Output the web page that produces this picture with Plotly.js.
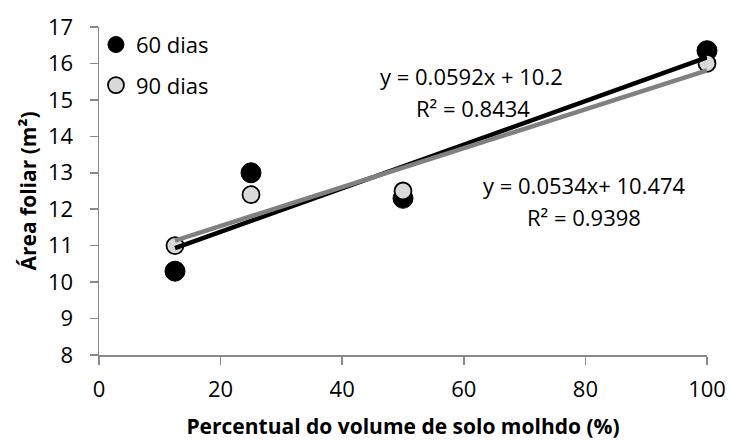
<!DOCTYPE html>
<html><head><meta charset="utf-8">
<script src="https://cdn.plot.ly/plotly-3.0.1.min.js"></script>
<style>html,body{margin:0;padding:0;background:#fff}#chart{width:730px;height:441px}</style>
</head><body><div id="chart"></div>
<script>
const xValues = [12.5, 25, 50, 100];
const y60 = [10.3, 13.0, 12.3, 16.35];
const y90 = [11.0, 12.4, 12.5, 16.0];
const seriesNames = ["60 dias", "90 dias"];
const eqLines = ["y = 0.0592x + 10.2", "R² = 0.8434", "y = 0.0534x+ 10.474", "R² = 0.9398"];
const xTicks = [0, 20, 40, 60, 80, 100];
const yTicks = [8, 9, 10, 11, 12, 13, 14, 15, 16, 17];

function fit(x, y) {
  const n = x.length;
  const mx = x.reduce((a, b) => a + b, 0) / n;
  const my = y.reduce((a, b) => a + b, 0) / n;
  let sxy = 0, sxx = 0;
  for (let i = 0; i < n; i++) { sxy += (x[i] - mx) * (y[i] - my); sxx += (x[i] - mx) ** 2; }
  const m = sxy / sxx; const b = my - m * mx;
  const xs = [Math.min(...x), Math.max(...x)];
  return { x: xs, y: xs.map(v => m * v + b) };
}
const f60 = fit(xValues, y60), f90 = fit(xValues, y90);
const font = "Open Sans";

const traces = [
  { x: xValues, y: y60, name: seriesNames[0], legendgroup: "a", mode: "markers", type: "scatter", cliponaxis: false,
    marker: { size: 20, color: "#000000", line: { color: "#000000", width: 1 } } },
  { x: xValues, y: y90, name: seriesNames[1], legendgroup: "b", mode: "markers", type: "scatter", cliponaxis: false,
    marker: { size: 17, color: "#d9d9d9", line: { color: "#000000", width: 1.8 } } },
  { x: f60.x, y: f60.y, mode: "lines", type: "scatter", showlegend: false, hoverinfo: "skip", cliponaxis: false,
    line: { color: "#000000", width: 4.5 } },
  { x: f90.x, y: f90.y, mode: "lines", type: "scatter", showlegend: false, hoverinfo: "skip", cliponaxis: false,
    line: { color: "#808080", width: 4.5 } }
];

const annPos = [[0.613, 0.852], [0.615, 0.752], [0.798, 0.517], [0.798, 0.420]];
const annotations = eqLines.map((t, i) => ({
  x: annPos[i][0], y: annPos[i][1], xref: "paper", yref: "paper", text: t, showarrow: false,
  xanchor: "center", yanchor: "middle", font: { family: font, size: 22 }
}));

const layout = {
  width: 730, height: 441,
  margin: { l: 99, r: 23, t: 26.5, b: 86 },
  paper_bgcolor: "#fff", plot_bgcolor: "#fff",
  font: { family: font, size: 22, color: "#000" },
  showlegend: true,
  legend: { x: -0.005, y: 1.01, xanchor: "left", yanchor: "top", bgcolor: "rgba(0,0,0,0)",
    font: { family: font, size: 22 }, itemwidth: 30, traceorder: "grouped", tracegroupgap: 9 },
  xaxis: { range: [0, 100], tickvals: xTicks, showgrid: false, zeroline: false,
    showline: true, linecolor: "#898989", linewidth: 1.5, ticks: "outside", ticklen: 8,
    tickcolor: "#898989", tickwidth: 1.5, tickfont: { family: font, size: 22 }, ticklabelstandoff: 6,
    title: { text: "<b>Percentual do volume de solo molhdo (%)</b>", font: { family: font, size: 21 }, standoff: 17 } },
  yaxis: { range: [8, 17], tickvals: yTicks, showgrid: false, zeroline: false,
    showline: true, linecolor: "#898989", linewidth: 1.5, ticks: "outside", ticklen: 8,
    tickcolor: "#898989", tickwidth: 1.5, tickfont: { family: font, size: 22 }, ticklabelstandoff: 12,
    title: { text: "<b>Área foliar (m²)</b>", font: { family: font, size: 21 }, standoff: 5 } },
  annotations: annotations
};
Plotly.newPlot("chart", traces, layout, { displayModeBar: false, staticPlot: true });
</script></body></html>
